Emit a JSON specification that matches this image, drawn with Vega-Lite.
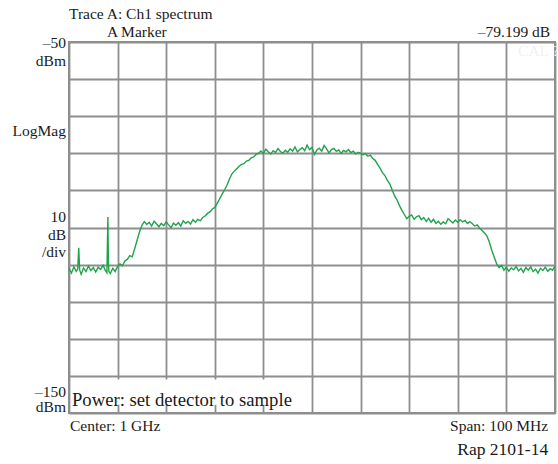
{
  "$schema": "https://vega.github.io/schema/vega-lite/v6.json",
  "width": 486,
  "height": 371,
  "autosize": {"type": "none"},
  "padding": {"left": 69, "top": 42, "right": 3, "bottom": 51},
  "background": "white",
  "config": {
    "view": {"stroke": "#8e8e8e", "strokeWidth": 2},
    "axis": {
      "grid": true, "gridColor": "#8e8e8e", "gridWidth": 1.8, "gridOpacity": 1,
      "labels": false, "ticks": false, "domain": false, "title": null
    },
    "text": {"font": "Liberation Serif", "fontSize": 15.5, "color": "#1a1a1a", "baseline": "middle"}
  },
  "resolve": {"axis": {"x": "independent", "y": "independent"}},
  "datasets": {
    "one": [{}],
    "trace": [
      {"f": 950.0, "p": -111.0}, {"f": 950.5, "p": -112.3}, {"f": 951.0, "p": -110.6}, {"f": 951.5, "p": -111.8},
      {"f": 951.8, "p": -111.2}, {"f": 952.0, "p": -105.5}, {"f": 952.2, "p": -111.5}, {"f": 952.5, "p": -112.6},
      {"f": 953.0, "p": -110.9}, {"f": 953.5, "p": -111.9}, {"f": 954.0, "p": -110.4}, {"f": 954.5, "p": -111.6},
      {"f": 955.0, "p": -110.8}, {"f": 955.5, "p": -112.0}, {"f": 956.0, "p": -110.7}, {"f": 956.5, "p": -111.3},
      {"f": 957.0, "p": -110.2}, {"f": 957.5, "p": -111.6}, {"f": 957.8, "p": -112.2}, {"f": 958.0, "p": -97.2},
      {"f": 958.1, "p": -108.5}, {"f": 958.2, "p": -111.8}, {"f": 958.5, "p": -112.4}, {"f": 959.0, "p": -111.0},
      {"f": 959.5, "p": -111.9}, {"f": 960.0, "p": -110.5}, {"f": 960.5, "p": -109.8}, {"f": 961.0, "p": -110.3},
      {"f": 961.5, "p": -109.0}, {"f": 962.0, "p": -108.6}, {"f": 962.5, "p": -107.6}, {"f": 963.0, "p": -107.9},
      {"f": 963.5, "p": -105.8}, {"f": 964.0, "p": -103.5}, {"f": 964.5, "p": -101.2}, {"f": 965.0, "p": -99.4},
      {"f": 965.5, "p": -98.4}, {"f": 966.0, "p": -99.2}, {"f": 966.5, "p": -98.6}, {"f": 967.0, "p": -99.6},
      {"f": 967.5, "p": -98.3}, {"f": 968.0, "p": -99.0}, {"f": 968.5, "p": -99.8}, {"f": 969.0, "p": -98.9},
      {"f": 969.5, "p": -99.5}, {"f": 970.0, "p": -98.5}, {"f": 970.5, "p": -99.3}, {"f": 971.0, "p": -100.0},
      {"f": 971.5, "p": -98.8}, {"f": 972.0, "p": -99.4}, {"f": 972.5, "p": -98.7}, {"f": 973.0, "p": -99.6},
      {"f": 973.5, "p": -98.2}, {"f": 974.0, "p": -98.9}, {"f": 974.5, "p": -98.4}, {"f": 975.0, "p": -99.1},
      {"f": 975.5, "p": -97.9}, {"f": 976.0, "p": -98.6}, {"f": 976.5, "p": -97.8}, {"f": 977.0, "p": -98.2},
      {"f": 977.5, "p": -97.3}, {"f": 978.0, "p": -96.9}, {"f": 978.5, "p": -96.2}, {"f": 979.0, "p": -95.8},
      {"f": 979.5, "p": -95.0}, {"f": 980.0, "p": -94.6}, {"f": 980.5, "p": -93.5}, {"f": 981.0, "p": -92.3},
      {"f": 981.5, "p": -91.0}, {"f": 982.0, "p": -89.9}, {"f": 982.5, "p": -88.6}, {"f": 983.0, "p": -87.0},
      {"f": 983.5, "p": -85.6}, {"f": 984.0, "p": -84.8}, {"f": 984.5, "p": -84.2}, {"f": 985.0, "p": -83.5},
      {"f": 985.5, "p": -83.0}, {"f": 986.0, "p": -82.8}, {"f": 986.5, "p": -82.1}, {"f": 987.0, "p": -81.9},
      {"f": 987.5, "p": -81.2}, {"f": 988.0, "p": -81.0}, {"f": 988.5, "p": -80.3}, {"f": 989.0, "p": -80.0},
      {"f": 989.5, "p": -79.4}, {"f": 990.0, "p": -80.1}, {"f": 990.5, "p": -78.9}, {"f": 991.0, "p": -79.6},
      {"f": 991.5, "p": -80.2}, {"f": 992.0, "p": -79.3}, {"f": 992.5, "p": -79.8}, {"f": 993.0, "p": -78.7},
      {"f": 993.5, "p": -79.5}, {"f": 994.0, "p": -80.0}, {"f": 994.5, "p": -79.2}, {"f": 995.0, "p": -79.7},
      {"f": 995.5, "p": -78.8}, {"f": 996.0, "p": -79.4}, {"f": 996.5, "p": -78.3}, {"f": 997.0, "p": -79.6},
      {"f": 997.5, "p": -79.0}, {"f": 998.0, "p": -78.5}, {"f": 998.5, "p": -79.3}, {"f": 999.0, "p": -77.8},
      {"f": 999.5, "p": -79.0}, {"f": 1000.0, "p": -78.4}, {"f": 1000.5, "p": -80.3}, {"f": 1001.0, "p": -79.1},
      {"f": 1001.5, "p": -78.6}, {"f": 1002.0, "p": -79.4}, {"f": 1002.5, "p": -77.9}, {"f": 1003.0, "p": -78.8},
      {"f": 1003.5, "p": -79.9}, {"f": 1004.0, "p": -79.0}, {"f": 1004.5, "p": -78.7}, {"f": 1005.0, "p": -79.5},
      {"f": 1005.5, "p": -79.1}, {"f": 1006.0, "p": -80.0}, {"f": 1006.5, "p": -79.2}, {"f": 1007.0, "p": -79.6},
      {"f": 1007.5, "p": -79.0}, {"f": 1008.0, "p": -79.8}, {"f": 1008.5, "p": -79.4}, {"f": 1009.0, "p": -80.2},
      {"f": 1009.5, "p": -79.7}, {"f": 1010.0, "p": -80.0}, {"f": 1010.5, "p": -80.4}, {"f": 1011.0, "p": -80.1},
      {"f": 1011.5, "p": -80.8}, {"f": 1012.0, "p": -80.5}, {"f": 1012.5, "p": -81.4}, {"f": 1013.0, "p": -81.9},
      {"f": 1013.5, "p": -83.0}, {"f": 1014.0, "p": -84.0}, {"f": 1014.5, "p": -85.2}, {"f": 1015.0, "p": -86.0},
      {"f": 1015.5, "p": -87.3}, {"f": 1016.0, "p": -88.2}, {"f": 1016.5, "p": -89.9}, {"f": 1017.0, "p": -91.5},
      {"f": 1017.5, "p": -92.6}, {"f": 1018.0, "p": -94.1}, {"f": 1018.5, "p": -95.4}, {"f": 1019.0, "p": -96.5},
      {"f": 1019.5, "p": -97.6}, {"f": 1020.0, "p": -97.0}, {"f": 1020.5, "p": -96.6}, {"f": 1021.0, "p": -97.8},
      {"f": 1021.5, "p": -97.1}, {"f": 1022.0, "p": -96.8}, {"f": 1022.5, "p": -97.9}, {"f": 1023.0, "p": -97.3},
      {"f": 1023.5, "p": -98.4}, {"f": 1024.0, "p": -97.5}, {"f": 1024.5, "p": -98.6}, {"f": 1025.0, "p": -97.8},
      {"f": 1025.5, "p": -98.9}, {"f": 1026.0, "p": -98.3}, {"f": 1026.5, "p": -99.1}, {"f": 1027.0, "p": -98.5},
      {"f": 1027.5, "p": -99.0}, {"f": 1028.0, "p": -97.6}, {"f": 1028.5, "p": -98.2}, {"f": 1029.0, "p": -98.8},
      {"f": 1029.5, "p": -98.0}, {"f": 1030.0, "p": -98.6}, {"f": 1030.5, "p": -97.9}, {"f": 1031.0, "p": -98.5},
      {"f": 1031.5, "p": -98.1}, {"f": 1032.0, "p": -98.9}, {"f": 1032.5, "p": -98.4}, {"f": 1033.0, "p": -99.0},
      {"f": 1033.5, "p": -99.6}, {"f": 1034.0, "p": -99.3}, {"f": 1034.5, "p": -100.2}, {"f": 1035.0, "p": -100.8},
      {"f": 1035.5, "p": -101.5}, {"f": 1036.0, "p": -102.3}, {"f": 1036.5, "p": -104.0}, {"f": 1037.0, "p": -106.2},
      {"f": 1037.5, "p": -108.0}, {"f": 1038.0, "p": -109.8}, {"f": 1038.5, "p": -110.8}, {"f": 1039.0, "p": -110.2},
      {"f": 1039.5, "p": -111.5}, {"f": 1040.0, "p": -110.7}, {"f": 1040.5, "p": -111.8}, {"f": 1041.0, "p": -110.9},
      {"f": 1041.5, "p": -111.4}, {"f": 1042.0, "p": -110.5}, {"f": 1042.5, "p": -111.7}, {"f": 1043.0, "p": -111.0},
      {"f": 1043.5, "p": -112.1}, {"f": 1044.0, "p": -110.8}, {"f": 1044.5, "p": -111.5}, {"f": 1045.0, "p": -110.6},
      {"f": 1045.5, "p": -111.9}, {"f": 1046.0, "p": -111.2}, {"f": 1046.5, "p": -112.3}, {"f": 1047.0, "p": -111.0},
      {"f": 1047.5, "p": -111.6}, {"f": 1048.0, "p": -110.7}, {"f": 1048.5, "p": -111.8}, {"f": 1049.0, "p": -111.1},
      {"f": 1049.5, "p": -111.5}, {"f": 1050.0, "p": -110.4}
    ]
  },
  "layer": [
    {
      "data": {"name": "trace"},
      "mark": {"type": "line", "color": "#21a24c", "strokeWidth": 1.4, "interpolate": "linear"},
      "encoding": {
        "x": {
          "field": "f", "type": "quantitative",
          "scale": {"domain": [950, 1050], "nice": false, "zero": false},
          "axis": {"values": [950, 960, 970, 980, 990, 1000, 1010, 1020, 1030, 1040, 1050]}
        },
        "y": {
          "field": "p", "type": "quantitative",
          "scale": {"domain": [-150, -50], "nice": false, "zero": false},
          "axis": {"values": [-150, -140, -130, -120, -110, -100, -90, -80, -70, -60, -50]}
        }
      }
    },
    {
      "data": {"name": "one"},
      "mark": {"type": "rect", "fill": "white", "stroke": null},
      "encoding": {
        "x": {"datum": 950.6, "type": "quantitative", "axis": null},
        "x2": {"datum": 998.0},
        "y": {"datum": -141.0, "type": "quantitative", "axis": null},
        "y2": {"datum": -147.8}
      }
    },
    {
      "data": {"name": "one"},
      "mark": {"type": "text", "text": "Power: set detector to sample", "align": "left", "fontSize": 18.7},
      "encoding": {
        "x": {"datum": 950.6, "type": "quantitative", "axis": null},
        "y": {"datum": -146.4, "type": "quantitative", "axis": null}
      }
    },
    {
      "data": {"name": "one"},
      "mark": {"type": "text", "text": "Trace A: Ch1 spectrum", "align": "left"},
      "encoding": {
        "x": {"datum": 950.0, "type": "quantitative", "axis": null},
        "y": {"datum": -42.5, "type": "quantitative", "axis": null}
      }
    },
    {
      "data": {"name": "one"},
      "mark": {"type": "text", "text": "A Marker", "align": "left"},
      "encoding": {
        "x": {"datum": 957.8, "type": "quantitative", "axis": null},
        "y": {"datum": -47.3, "type": "quantitative", "axis": null}
      }
    },
    {
      "data": {"name": "one"},
      "mark": {"type": "text", "text": "–79.199 dB", "align": "right"},
      "encoding": {
        "x": {"datum": 1049.0, "type": "quantitative", "axis": null},
        "y": {"datum": -47.3, "type": "quantitative", "axis": null}
      }
    },
    {
      "data": {"name": "one"},
      "mark": {"type": "text", "text": "CAL ?", "align": "left", "color": "#f1f1f1"},
      "encoding": {
        "x": {"datum": 1042.4, "type": "quantitative", "axis": null},
        "y": {"datum": -52.3, "type": "quantitative", "axis": null}
      }
    },
    {
      "data": {"name": "one"},
      "mark": {"type": "text", "text": ["–50", "dBm"], "align": "right", "dx": -3, "lineHeight": 18},
      "encoding": {
        "x": {"datum": 950.0, "type": "quantitative", "axis": null},
        "y": {"datum": -50.3, "type": "quantitative", "axis": null}
      }
    },
    {
      "data": {"name": "one"},
      "mark": {"type": "text", "text": "LogMag", "align": "right", "dx": -3},
      "encoding": {
        "x": {"datum": 950.0, "type": "quantitative", "axis": null},
        "y": {"datum": -74.0, "type": "quantitative", "axis": null}
      }
    },
    {
      "data": {"name": "one"},
      "mark": {"type": "text", "text": ["10", "dB", "/div"], "align": "right", "dx": -3, "lineHeight": 17.5},
      "encoding": {
        "x": {"datum": 950.0, "type": "quantitative", "axis": null},
        "y": {"datum": -97.2, "type": "quantitative", "axis": null}
      }
    },
    {
      "data": {"name": "one"},
      "mark": {"type": "text", "text": ["–150", "dBm"], "align": "right", "dx": -3, "lineHeight": 15.5},
      "encoding": {
        "x": {"datum": 950.0, "type": "quantitative", "axis": null},
        "y": {"datum": -144.3, "type": "quantitative", "axis": null}
      }
    },
    {
      "data": {"name": "one"},
      "mark": {"type": "text", "text": "Center: 1 GHz", "align": "left"},
      "encoding": {
        "x": {"datum": 950.2, "type": "quantitative", "axis": null},
        "y": {"datum": -153.5, "type": "quantitative", "axis": null}
      }
    },
    {
      "data": {"name": "one"},
      "mark": {"type": "text", "text": "Span: 100 MHz", "align": "right"},
      "encoding": {
        "x": {"datum": 1048.6, "type": "quantitative", "axis": null},
        "y": {"datum": -153.5, "type": "quantitative", "axis": null}
      }
    },
    {
      "data": {"name": "one"},
      "mark": {"type": "text", "text": "Rap 2101-14", "align": "right", "fontSize": 17.5},
      "encoding": {
        "x": {"datum": 1048.6, "type": "quantitative", "axis": null},
        "y": {"datum": -160.0, "type": "quantitative", "axis": null}
      }
    }
  ]
}
